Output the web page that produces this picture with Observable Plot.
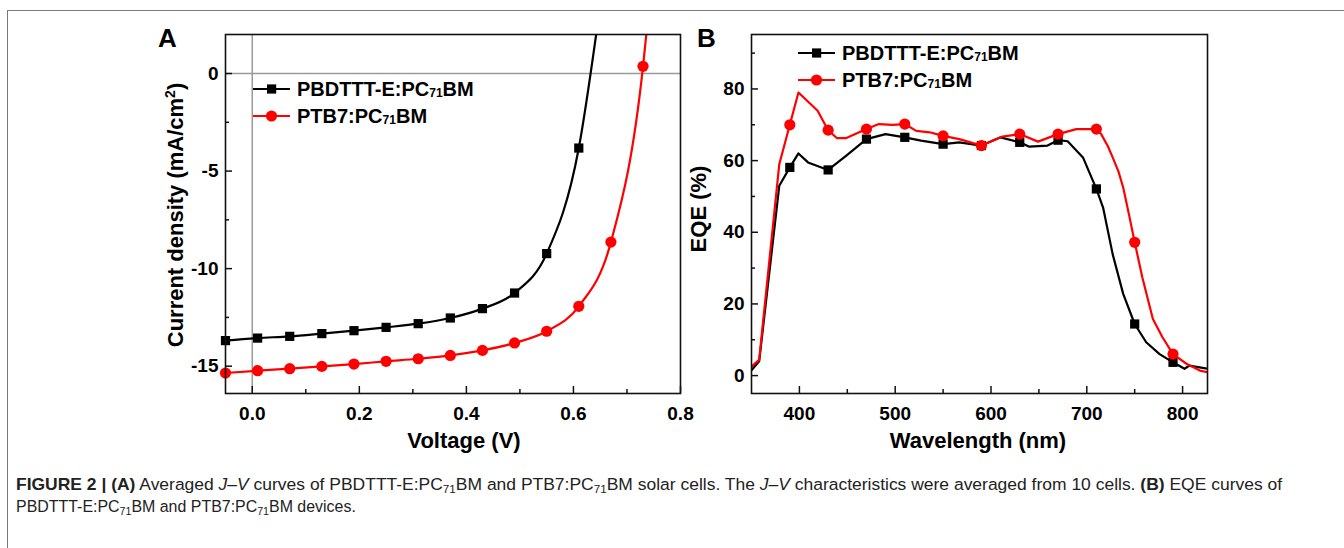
<!DOCTYPE html>
<html><head><meta charset="utf-8">
<script src="https://cdn.jsdelivr.net/npm/d3@7"></script>
<script src="https://cdn.jsdelivr.net/npm/@observablehq/plot@0.6"></script>
<style>
html,body{margin:0;padding:0;background:#fff;}
#fig{position:relative;width:1344px;height:548px;overflow:hidden;font-family:"Liberation Sans",Arial,sans-serif;}
#border{position:absolute;left:7px;top:10px;width:1400px;height:600px;border-left:1.5px solid #777;border-top:1.5px solid #777;}
.panel{position:absolute;top:0;}
#overlay{position:absolute;left:0;top:0;}
.panel [aria-label$="tick label"] text{font-weight:bold;}
</style></head><body>
<div id="fig"><div id="border"></div><div id="pa" class="panel" style="left:140px"></div><div id="pb" class="panel" style="left:660px"></div><svg id="overlay" width="1344" height="548"></svg></div>
<script>
// ---------- Panel A: J–V ----------
const jvBlackV = [-0.05, 0.01, 0.07, 0.13, 0.19, 0.25, 0.31, 0.37, 0.43, 0.49, 0.55, 0.61];
const jvBlackJ = [-13.69, -13.56, -13.47, -13.33, -13.18, -13.01, -12.82, -12.53, -12.05, -11.25, -9.23, -3.82];
const jvBlackLineV = [-0.05, 0.01, 0.07, 0.13, 0.19, 0.25, 0.31, 0.37, 0.43, 0.49, 0.55, 0.61, 0.645];
const jvBlackLineJ = [-13.69, -13.56, -13.47, -13.33, -13.18, -13.01, -12.82, -12.53, -12.05, -11.25, -9.23, -3.82, 2.5];
const jvRedV = [-0.05, 0.01, 0.07, 0.13, 0.19, 0.25, 0.31, 0.37, 0.43, 0.49, 0.55, 0.61, 0.67, 0.73];
const jvRedJ = [-15.35, -15.23, -15.13, -15.01, -14.89, -14.75, -14.62, -14.45, -14.19, -13.81, -13.21, -11.93, -8.64, 0.37];
const jvRedLineV = [-0.05, 0.01, 0.07, 0.13, 0.19, 0.25, 0.31, 0.37, 0.43, 0.49, 0.55, 0.61, 0.67, 0.73, 0.738];
const jvRedLineJ = [-15.35, -15.23, -15.13, -15.01, -14.89, -14.75, -14.62, -14.45, -14.19, -13.81, -13.21, -11.93, -8.64, 0.37, 2.5];
const jvXMajor = [0, 0.2, 0.4, 0.6, 0.8];
const jvXMinor = [0.1, 0.3, 0.5, 0.7];
const jvYMajor = [0, -5, -10, -15];
const jvYMinor = [-2.5, -7.5, -12.5];

// ---------- Panel B: EQE ----------
const eqeBlackLineW = [350, 358, 379, 390, 399, 409, 430, 449, 470, 490, 510, 527, 550, 567, 590, 610, 630, 640, 659, 670, 680, 696, 710, 717, 727, 738, 750, 762, 776, 790, 802, 807, 826];
const eqeBlackLineE = [1.5, 4, 53, 58.1, 62, 59.5, 57.4, 61.4, 66, 67.4, 66.5, 65.6, 64.6, 65.1, 64.2, 66.5, 65.1, 63.9, 64.2, 65.7, 65.4, 60.9, 52.1, 46.9, 33.9, 22.8, 14.4, 9.3, 6, 3.7, 1.9, 2.8, 1.9];
const eqeRedLineW = [350, 358, 379, 390, 399, 419, 430, 439, 449, 470, 483, 497, 510, 522, 536, 550, 567, 590, 612, 630, 649, 670, 689, 710, 715, 722, 727, 733, 738, 744, 750, 758, 769, 779, 790, 804, 818, 826];
const eqeRedLineE = [2.5, 4.4, 59, 70, 79, 73.9, 68.5, 66.3, 66.3, 68.8, 70.2, 70, 70.2, 68.3, 67.9, 66.9, 66, 64.2, 66.7, 67.4, 65.3, 67.4, 68.8, 68.8, 67.4, 64, 60.9, 57, 52.5, 45, 37.2, 27.4, 15.8, 10.7, 6, 3.3, 1.4, 0.9];
const eqeMarkW = [390, 430, 470, 510, 550, 590, 630, 670, 710, 750, 790];
const eqeBlackMarkE = [58.1, 57.4, 66, 66.5, 64.6, 64.2, 65.1, 65.7, 52.1, 14.4, 3.7];
const eqeRedMarkE = [70, 68.5, 68.8, 70.2, 66.9, 64.2, 67.4, 67.4, 68.8, 37.2, 6];
const eqeXMajor = [400, 500, 600, 700, 800];
const eqeXMinor = [450, 550, 650, 750];
const eqeYMajor = [0, 20, 40, 60, 80];
const eqeYMinor = [10, 30, 50, 70, 90];

const seriesNames = ["PBDTTT-E:PC", "PTB7:PC"];
const BLACK = "#000", RED = "#ff0000";

const zip = (xs, ys) => xs.map((x, i) => ({x, y: ys[i]}));
const baseStyle = {fontFamily: "'Liberation Sans', Arial, sans-serif", fontSize: "19px", color: "#000", background: "transparent", overflow: "visible"};

function panel({width, height, ml, mr, mt, mb, xDomain, yDomain, xMajor, xMinor, yMajor, yMinor, xFmt, yFmt, extra, series}) {
  const iw = width - ml - mr, ih = height - mt - mb;
  return Plot.plot({
    width, height, marginLeft: ml, marginRight: mr, marginTop: mt, marginBottom: mb,
    x: {domain: xDomain}, y: {domain: yDomain},
    style: baseStyle,
    marks: [
      ...extra,
      Plot.ruleX(xMajor, {stroke: "#111", strokeWidth: 1.5, insetTop: ih - 7}),
      Plot.ruleX(xMinor, {stroke: "#111", strokeWidth: 1.5, insetTop: ih - 4}),
      Plot.ruleY(yMajor, {stroke: "#111", strokeWidth: 1.5, insetRight: iw - 7}),
      Plot.ruleY(yMinor, {stroke: "#111", strokeWidth: 1.5, insetRight: iw - 4}),
      Plot.axisX(xMajor, {tickSize: 0, tickPadding: 13, tickFormat: xFmt, label: null, fontSize: 19, fontWeight: "bold"}),
      Plot.axisY(yMajor, {tickSize: 0, tickPadding: 7, tickFormat: yFmt, label: null, fontSize: 19, fontWeight: "bold"}),
      ...series,
      Plot.frame({stroke: "#111", strokeWidth: 1.6})
    ]
  });
}

const plotA = panel({
  width: 560, height: 460, ml: 85, mr: 20, mt: 34, mb: 67,
  xDomain: [-0.05, 0.8], yDomain: [-16.4, 2],
  xMajor: jvXMajor, xMinor: jvXMinor, yMajor: jvYMajor, yMinor: jvYMinor,
  xFmt: d => d.toFixed(1), yFmt: d => String(d),
  extra: [Plot.ruleX([0], {stroke: "#9a9a9a", strokeWidth: 1.5}), Plot.ruleY([0], {stroke: "#9a9a9a", strokeWidth: 1.5})],
  series: [
    Plot.line(zip(jvBlackLineV, jvBlackLineJ), {x: "x", y: "y", curve: "monotone-x", stroke: BLACK, strokeWidth: 2.2, clip: true}),
    Plot.dot(zip(jvBlackV, jvBlackJ), {x: "x", y: "y", symbol: "square", r: 5.2, fill: BLACK}),
    Plot.line(zip(jvRedLineV, jvRedLineJ), {x: "x", y: "y", curve: "monotone-x", stroke: RED, strokeWidth: 2.2, clip: true}),
    Plot.dot(zip(jvRedV, jvRedJ), {x: "x", y: "y", symbol: "circle", r: 5.6, fill: RED})
  ]
});
document.getElementById("pa").appendChild(plotA);

const plotB = panel({
  width: 580, height: 460, ml: 91, mr: 33, mt: 34, mb: 67,
  xDomain: [350, 826], yDomain: [-5, 95.2],
  xMajor: eqeXMajor, xMinor: eqeXMinor, yMajor: eqeYMajor, yMinor: eqeYMinor,
  xFmt: d => String(d), yFmt: d => String(d),
  extra: [],
  series: [
    Plot.line(zip(eqeBlackLineW, eqeBlackLineE), {x: "x", y: "y", curve: "linear", stroke: BLACK, strokeWidth: 2.2, clip: true}),
    Plot.dot(zip(eqeMarkW, eqeBlackMarkE), {x: "x", y: "y", symbol: "square", r: 5.2, fill: BLACK}),
    Plot.line(zip(eqeRedLineW, eqeRedLineE), {x: "x", y: "y", curve: "linear", stroke: RED, strokeWidth: 2.2, clip: true}),
    Plot.dot(zip(eqeMarkW, eqeRedMarkE), {x: "x", y: "y", symbol: "circle", r: 5.6, fill: RED})
  ]
});
document.getElementById("pb").appendChild(plotB);

// ---------- Overlay: labels, legends, caption ----------
const F = "'Liberation Sans', Arial, sans-serif";
const sub = '<tspan font-size="12" dy="1">71</tspan><tspan dy="-1">BM</tspan>';
function legend(x0, yRows) {
  const colors = [BLACK, RED];
  let s = "";
  yRows.forEach((y, i) => {
    s += `<line x1="${x0}" x2="${x0 + 37}" y1="${y}" y2="${y}" stroke="${colors[i]}" stroke-width="2.2"/>`;
    if (i === 0) s += `<rect x="${x0 + 14}" y="${y - 4.6}" width="9.2" height="9.2" fill="${BLACK}"/>`;
    else s += `<circle cx="${x0 + 18.5}" cy="${y}" r="5.6" fill="${RED}"/>`;
    s += `<text x="${x0 + 44}" y="${y + 7}" font-size="20" font-weight="bold" font-family="${F}" fill="#000">${seriesNames[i]}${sub}</text>`;
  });
  return s;
}
const CF = "'Liberation Sans Narrow','Liberation Sans',Arial,sans-serif";
const csub = '<tspan font-size="11" dy="3">71</tspan><tspan dy="-3">BM</tspan>';
const ov = document.getElementById("overlay");
ov.innerHTML = `
<text x="158" y="47" font-size="26" font-weight="bold" font-family="${F}">A</text>
<text x="697" y="47" font-size="26" font-weight="bold" font-family="${F}">B</text>
${legend(253, [89, 116])}
${legend(798, [53, 80])}
<text x="464" y="448" text-anchor="middle" font-size="22" font-weight="bold" font-family="${F}">Voltage (V)</text>
<text x="978" y="448" text-anchor="middle" font-size="22" font-weight="bold" font-family="${F}">Wavelength (nm)</text>
<text transform="translate(183,215) rotate(-90)" text-anchor="middle" font-size="22" font-weight="bold" font-family="${F}">Current density (mA/cm<tspan font-size="14" dy="-8">2</tspan><tspan dy="8">)</tspan></text>
<text transform="translate(706,209) rotate(-90)" text-anchor="middle" font-size="22" font-weight="bold" font-family="${F}">EQE (%)</text>
<g id="capg1" font-size="16.5" font-family="${CF}" fill="#222">
<text id="cap1" x="0" y="0"><tspan font-weight="bold">FIGURE 2 | (A)</tspan> Averaged <tspan font-style="italic">J–V</tspan> curves of PBDTTT-E:PC${csub} and PTB7:PC${csub} solar cells. The <tspan font-style="italic">J–V</tspan> characteristics were averaged from 10 cells. <tspan font-weight="bold">(B)</tspan> EQE curves of</text>
</g>
<g id="capg2" font-size="16.5" font-family="${CF}" fill="#222">
<text id="cap2" x="0" y="0">PBDTTT-E:PC${csub} and PTB7:PC${csub} devices.</text>
</g>
`;
// condensed caption: fit each line to the width it spans in the figure
const s1 = 1267 / document.getElementById("cap1").getComputedTextLength();
const s2 = 340 / document.getElementById("cap2").getComputedTextLength();
document.getElementById("capg1").setAttribute("transform", `translate(16,490) scale(${s1},1)`);
document.getElementById("capg2").setAttribute("transform", `translate(16,512) scale(${s2},1)`);
</script>
</body></html>
